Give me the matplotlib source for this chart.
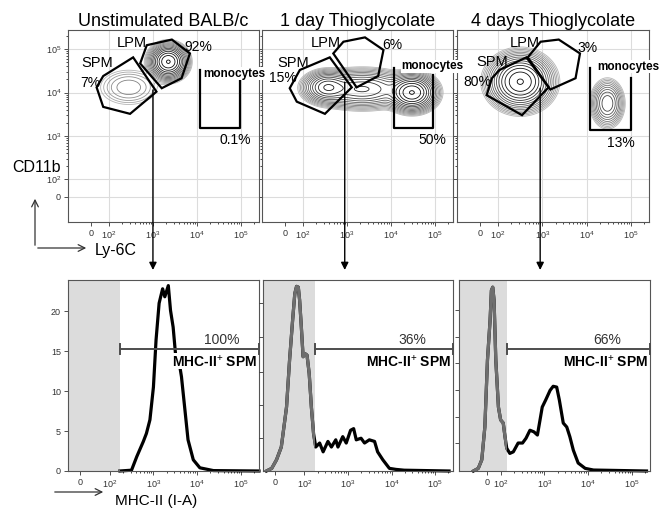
import numpy as np
import matplotlib.pyplot as plt
from matplotlib.patches import Polygon, FancyArrowPatch, ConnectionPatch

plt.rcParams['font.family'] = ['Liberation Sans', 'DejaVu Sans']
plt.rcParams['mathtext.fontset'] = 'custom'
plt.rcParams['mathtext.rm'] = 'Liberation Sans'
plt.rcParams['mathtext.bf'] = 'Liberation Sans:bold'

W, H = 661, 508

# =========================
# DATA (axes in decade units of the biexponential display)
# =========================
titles = ["Unstimulated BALB/c", "1 day Thioglycolate", "4 days Thioglycolate"]

# contour populations: x centre, y centre, x spread, y spread, weight
pops = [
    [(3.35, 4.71, 0.17, 0.16, 1.0), (2.45, 4.12, 0.34, 0.21, 0.035)],
    [(2.55, 4.12, 0.22, 0.15, 0.45), (3.35, 4.08, 0.45, 0.18, 0.35),
     (4.48, 4.00, 0.22, 0.17, 1.0)],
    [(2.50, 4.25, 0.28, 0.25, 1.0), (4.47, 3.75, 0.15, 0.22, 0.22)],
]

spm_gates = [
    [(1.87, 4.38), (2.55, 4.81), (3.08, 4.02), (2.48, 3.51), (1.87, 3.67), (1.72, 4.12)],
    [(1.93, 4.52), (2.61, 4.81), (3.11, 4.12), (2.50, 3.51), (1.86, 3.79), (1.70, 4.10)],
    [(2.03, 4.52), (2.64, 4.81), (3.14, 4.12), (2.54, 3.48), (1.74, 3.94), (1.86, 4.33)],
]
lpm_gates = [
    [(2.86, 5.09), (3.43, 5.22), (3.84, 4.90), (3.65, 4.33), (3.20, 4.10), (2.71, 4.67)],
    [(2.92, 5.17), (3.41, 5.27), (3.83, 4.98), (3.71, 4.38), (3.22, 4.12), (2.69, 4.90)],
    [(2.96, 5.17), (3.37, 5.22), (3.85, 4.90), (3.75, 4.33), (3.18, 4.07), (2.67, 4.81)],
]
# monocyte bracket: x left, x right, y top left, y bottom, y top right
mono_gates = [
    (4.07, 4.98, 4.52, 3.18, 4.38),
    (4.07, 4.96, 4.56, 3.18, 4.40),
    (4.08, 5.00, 4.56, 3.14, 4.33),
]

lpm_pct = ["92%", "6%", "3%"]
spm_pct = ["7%", "15%", "80%"]
mono_pct = ["0.1%", "50%", "13%"]
lpm_lab_xy = [(2.52, 5.13), (2.52, 5.13), (2.61, 5.13)]
lpm_pct_xy = [(4.03, 5.05), (4.02, 5.09), (4.02, 5.02)]
spm_lab_xy = [(1.73, 4.67), (1.77, 4.67), (1.86, 4.71)]
spm_pct_xy = [(1.58, 4.23), (1.55, 4.33), (1.53, 4.25)]
mono_lab_xy = [(4.14, 4.43), (4.24, 4.61), (4.24, 4.59)]
mono_pct_xy = [(4.86, 2.91), (4.95, 2.91), (4.77, 2.85)]
arrow_x = [3.0, 2.95, 2.95]
arrow_y0 = [4.06, 4.24, 4.10]

# MHC-II histograms (x in decades, y in counts)
hist_x1 = [2.235, 2.50, 2.62, 2.77, 2.84, 2.92, 3.00, 3.06, 3.13, 3.21, 3.26, 3.34,
           3.39, 3.45, 3.51, 3.59, 3.64, 3.72, 3.79, 3.91, 4.06, 4.37, 5.41]
hist_y1 = [0, 0.1, 1.8, 3.7, 4.7, 6.4, 10.5, 16.4, 21.0, 22.8, 21.8, 23.2,
           20.1, 18.0, 14.3, 13.5, 11.8, 7.6, 3.9, 1.4, 0.4, 0.05, 0]
hist_x2 = [1.13, 1.25, 1.36, 1.47, 1.59, 1.66, 1.73, 1.78, 1.82, 1.86, 1.89, 1.93,
           1.97, 2.01, 2.06, 2.11, 2.16, 2.21, 2.26, 2.35, 2.43, 2.54, 2.62, 2.72,
           2.77, 2.88, 2.96, 3.06, 3.13, 3.19, 3.30, 3.38, 3.49, 3.61, 3.68, 3.80,
           3.95, 4.10, 4.29, 5.32]
hist_y2 = [0, 0.33, 1.4, 3.0, 8.0, 13.9, 18.9, 22.2, 23.1, 23.0, 21.4, 18.0,
           14.3, 14.7, 14.5, 12.2, 8.0, 4.7, 3.0, 3.5, 2.4, 3.7, 3.0, 3.9,
           3.0, 4.3, 3.5, 5.1, 5.3, 3.9, 4.1, 3.5, 3.9, 3.7, 2.4, 1.4,
           0.33, 0.2, 0.1, 0]
hist_x3 = [1.38, 1.49, 1.57, 1.64, 1.70, 1.76, 1.79, 1.82, 1.85, 1.89, 1.95, 2.00,
           2.06, 2.10, 2.14, 2.21, 2.29, 2.40, 2.50, 2.58, 2.67, 2.76, 2.84, 2.90,
           2.95, 3.03, 3.13, 3.20, 3.28, 3.34, 3.43, 3.51, 3.58, 3.66, 3.77, 3.93,
           4.12, 5.33]
hist_y3 = [0, 0.33, 1.4, 5.5, 13.9, 18.9, 22.6, 23.0, 21.4, 13.9, 8.0, 6.4,
           6.0, 4.3, 2.85, 2.2, 2.4, 3.5, 3.5, 4.1, 5.1, 4.9, 4.5, 6.4,
           8.0, 8.9, 10.1, 10.6, 10.5, 8.9, 6.0, 5.5, 4.3, 2.6, 1.0, 0.33,
           0.12, 0]
hist_x = [hist_x1, hist_x2, hist_x3]
hist_y = [hist_y1, hist_y2, hist_y3]
neg_gate = [2.235, 2.235, 2.136]
pos_pct = ["100%", "36%", "66%"]
pct_x = [4.56, 4.47, 4.43]
gate_y = 15.25
hist_zero = [1.33, 1.33, 1.69]
hist_yticks = [[0, 5, 10, 15, 20], [4.1, 8.2, 12.4, 16.8, 21.0],
               [3.5, 6.8, 10.1, 13.5, 16.8, 20.1]]

top_xlim = (1.07, 5.41)
top_ylim = (1.02, 5.44)
hist_xlim = (1.05, 5.41)
hist_ylim = (0, 23.9)

minor = [n + np.log10(k) for n in (2, 3, 4) for k in range(2, 10)] + [5.301]


def fx(px):
    return px / W


def fy(py):
    return 1 - py / H


fig = plt.figure(figsize=(W / 100, H / 100), dpi=100)

top_pos = [(68, 259), (262, 453), (457, 649)]
bot_pos = [(68, 259), (263, 453), (459, 650)]
top_axes = []
for i, (l, r) in enumerate(top_pos):
    ax = fig.add_axes([fx(l), fy(222), (r - l) / W, 192 / H])
    ax.set_zorder(5 - i)
    top_axes.append(ax)
    ax.set_xlim(*top_xlim)
    ax.set_ylim(*top_ylim)
    for g in [2, 3, 4, 5]:
        ax.axvline(g, color='#dcdcdc', lw=0.8, zorder=0)
    for g in [1.6, 2, 3, 4, 5]:
        ax.axhline(g, color='#dcdcdc', lw=0.8, zorder=0)

    # contour of the populations
    gx = np.linspace(*top_xlim, 300)
    gy = np.linspace(*top_ylim, 300)
    X, Y = np.meshgrid(gx, gy)
    Z = np.zeros_like(X)
    for cx, cy, sx, sy, w in pops[i]:
        Z += w * np.exp(-((X - cx) ** 2 / (2 * sx ** 2) + (Y - cy) ** 2 / (2 * sy ** 2)))
    lev = Z.max() * np.geomspace(0.006, 0.97, 15)
    cols = plt.cm.Greys(np.linspace(0.4, 1.0, len(lev)))
    ax.contour(X, Y, Z, levels=lev, colors=cols, linewidths=0.6, zorder=2)

    # gates
    ax.add_patch(Polygon(spm_gates[i], closed=True, fill=False, ec='black', lw=1.6, zorder=3))
    ax.add_patch(Polygon(lpm_gates[i], closed=True, fill=False, ec='black', lw=1.6, zorder=3))
    xl, xr, yt, yb, ytr = mono_gates[i]
    ax.plot([xl, xl, xr, xr], [yt, yb, yb, ytr], color='black', lw=1.6, zorder=3)

    ax.text(*lpm_lab_xy[i], "LPM", fontsize=10.5, ha='center', va='center', zorder=5)
    ax.text(*lpm_pct_xy[i], lpm_pct[i], fontsize=10, ha='center', va='center', zorder=5)
    ax.text(*spm_lab_xy[i], "SPM", fontsize=10.5, ha='center', va='center', zorder=5)
    ax.text(*spm_pct_xy[i], spm_pct[i], fontsize=10, ha='center', va='center', zorder=5)
    ax.text(*mono_pct_xy[i], mono_pct[i], fontsize=10, ha='center', va='center', zorder=5)
    ax.text(*mono_lab_xy[i], "monocytes", fontsize=8.5, fontweight='bold', ha='left',
            va='center', zorder=10, clip_on=False,
            bbox=dict(fc='white', ec='none', pad=0.3))

    ax.set_title(titles[i], fontsize=13, pad=3)
    ax.set_xticks([1.6, 2, 3, 4, 5])
    ax.set_xticklabels(['0', '$10^2$', '$10^3$', '$10^4$', '$10^5$'])
    ax.set_yticks([1.6, 2, 3, 4, 5])
    if i == 0:
        ax.set_yticklabels(['0', '$10^2$', '$10^3$', '$10^4$', '$10^5$'])
    else:
        ax.set_yticklabels([])
    ax.set_xticks(minor, minor=True)
    ax.set_yticks(minor, minor=True)

bot_axes = []
for i, (l, r) in enumerate(bot_pos):
    ax = fig.add_axes([fx(l), fy(471), (r - l) / W, 191 / H])
    bot_axes.append(ax)
    ax.set_xlim(*hist_xlim)
    ax.set_ylim(*hist_ylim)
    span = ax.axvspan(hist_xlim[0], neg_gate[i], color='#dcdcdc', lw=0, zorder=0)
    ax.plot(hist_x[i], hist_y[i], color='black', lw=2.3, zorder=2, clip_on=False)
    grey, = ax.plot(hist_x[i], hist_y[i], color='#6e6e6e', lw=2.3, zorder=3)
    grey.set_clip_path(span)

    ax.plot([neg_gate[i], hist_xlim[1]], [gate_y, gate_y], color='#4d4d4d', lw=1.4, zorder=4)
    for gx_ in (neg_gate[i], hist_xlim[1]):
        ax.plot([gx_, gx_], [gate_y - 0.6, gate_y + 0.6], color='#4d4d4d', lw=1.4,
                zorder=4, clip_on=False)
    ax.text(pct_x[i], gate_y + 0.25, pos_pct[i], fontsize=10, ha='center', va='bottom',
            color='#333333', zorder=5)
    ax.text(hist_xlim[1] - 0.04, gate_y - 0.5, 'MHC-II$^{+}$ SPM', fontsize=10,
            fontweight='bold', ha='right', va='top', zorder=6,
            bbox=dict(fc='white', ec='none', pad=0.2))

    ax.set_xticks([hist_zero[i], 2, 3, 4, 5])
    ax.set_xticklabels(['0', '$10^2$', '$10^3$', '$10^4$', '$10^5$'])
    ax.set_xticks(minor, minor=True)
    ax.set_yticks(hist_yticks[i])
    if i > 0:
        ax.set_yticklabels([])

for ax in top_axes + bot_axes:
    ax.tick_params(labelsize=6.5, colors='#333333', length=3, width=0.6, pad=2)
    ax.tick_params(which='minor', length=1.6, width=0.5)
    for s in ax.spines.values():
        s.set_color('#555555')
        s.set_linewidth(0.8)

# arrows from each dot plot down to its histogram
for i, ax in enumerate(top_axes):
    xf = fig.transFigure.inverted().transform(ax.transData.transform((arrow_x[i], 0)))[0]
    con = ConnectionPatch(xyA=(arrow_x[i], arrow_y0[i]), coordsA=ax.transData,
                          xyB=(xf, fy(270)), coordsB=fig.transFigure,
                          arrowstyle='-|>', mutation_scale=11, lw=1.0, color='black',
                          zorder=20)
    fig.add_artist(con)

# axis labels with arrows
fig.add_artist(FancyArrowPatch((fx(35), fy(248)), (fx(35), fy(196)), transform=fig.transFigure,
                               arrowstyle='->', mutation_scale=12, lw=0.9, color='#333333'))
fig.add_artist(FancyArrowPatch((fx(35), fy(248)), (fx(89), fy(248)), transform=fig.transFigure,
                               arrowstyle='->', mutation_scale=12, lw=0.9, color='#333333'))
fig.text(fx(12), fy(167), 'CD11b', fontsize=11.5, ha='left', va='center', zorder=30)
fig.text(fx(95), fy(251), 'Ly-6C', fontsize=11.5, ha='left', va='center')
fig.add_artist(FancyArrowPatch((fx(52), fy(492)), (fx(106), fy(492)), transform=fig.transFigure,
                               arrowstyle='->', mutation_scale=12, lw=0.9, color='#333333'))
fig.text(fx(115), fy(501), 'MHC-II (I-A)', fontsize=11, ha='left', va='center')

fig.savefig('out.png', dpi=100)
